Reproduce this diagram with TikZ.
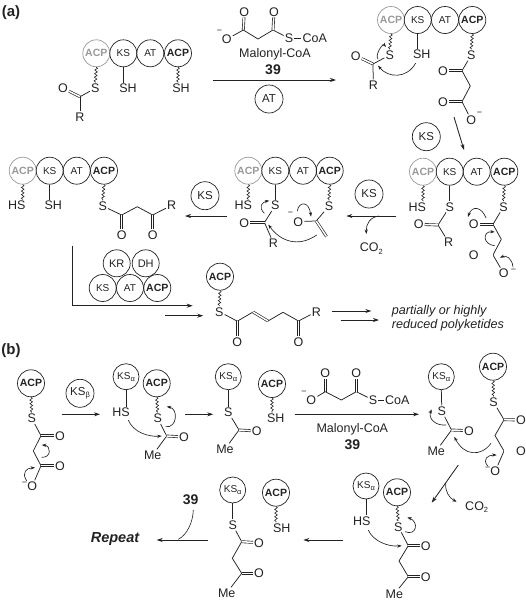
\documentclass[tikz,border=0pt]{standalone}
\usepackage{fontspec}
\setmainfont{Liberation Sans}
\usetikzlibrary{arrows.meta,calc,decorations.pathmorphing}
\definecolor{ink}{HTML}{222222}
\definecolor{fade}{HTML}{999999}
\newcommand\fs[1]{\fontsize{#1}{#1}\selectfont}
\newcommand\sbs[1]{\raisebox{-0.35ex}{\fs{7.5}#1}}
\newcommand\kal{KS\sbs{α}}
% curved electron-pushing arrow: name, start, via, end
\newcommand\curly[4]{\coordinate (#1s) at (#2); \coordinate (#1v) at (#3); \coordinate (#1e) at (#4);
  \draw[curlyarrow] (#1s) .. controls ($0.3333*(#1s)+1.3333*(#1v)-0.6667*(#1e)$) and ($0.3333*(#1e)+1.3333*(#1v)-0.6667*(#1s)$) .. (#1e);}
% the same with explicit control points: name, start, control, control, end
\newcommand\curlyc[5]{\coordinate (#1s) at (#2); \coordinate (#1e) at (#5);
  \draw[curlyarrow] (#1s) .. controls (#3) and (#4) .. (#1e);}
\newcommand\rxn[3]{\coordinate (#1s) at (#2); \coordinate (#1e) at (#3); \draw[rxnarrow] (#1s) -- (#1e);}
\tikzset{
  dom/.style={circle,draw=ink,line width=.7pt,minimum size=27pt,inner sep=0pt,text=ink,font=\fs{10}},
  acpb/.style={dom,font=\fs{10.5}\bfseries},
  acpg/.style={dom,draw=fade,text=fade,font=\fs{10.5}\bfseries},
  kas/.style={dom,minimum size=26pt,font=\fs{10}},
  reag/.style={dom,minimum size=28pt,font=\fs{11.5}},
  atom/.style={inner sep=1pt,text=ink,font=\fs{12.5},text height=9pt,text depth=0pt},
  lab/.style={inner sep=0pt,text=ink,font=\fs{12.5}},
  num/.style={inner sep=0pt,text=ink,font=\fs{14}\bfseries},
  minus/.style={inner sep=0pt,text=ink,font=\fs{9}},
  bond/.style={draw=ink,line width=.75pt},
  dbl/.style={draw=ink,line width=.65pt,double,double distance=1.5pt},
  wavy/.style={draw=ink,line width=.6pt,decorate,decoration={snake,amplitude=1.3pt,segment length=3.6pt}},
  rxnarrow/.style={draw=ink,line width=.85pt,-{Stealth[length=6pt,width=4pt]}},
  curlyarrow/.style={draw=ink,line width=.65pt,-{Stealth[length=4.5pt,width=3.2pt]}},
}
\begin{document}
\begin{tikzpicture}[x=1pt,y=-1pt]
\useasboundingbox (0,0) rectangle (526,600);
% ---------- labels
\node[inner sep=0,text=ink,font=\fs{15}\bfseries] (la) at (11,13) {(a)};
\node[inner sep=0,text=ink,font=\fs{15}\bfseries] (lb) at (11,351) {(b)};

% ---------- a1
\node[acpg] (a1g) at (96.3,53.3) {ACP};
\node[dom] (a1k) at (123.3,53.3) {KS};
\node[dom] (a1t) at (150.3,53.3) {AT};
\node[acpb] (a1p) at (178,53.3) {ACP};
\node[atom] (a1s) at (95.3,88.3) {S};
\node[atom] (a1sh) at (128,88.3) {SH};
\node[atom] (a1sh2) at (181,88.3) {SH};
\node[atom] (a1o) at (63,88.3) {O};
\coordinate (a1c) at (80,96.7);
\node[atom] (a1r) at (80,117) {R};
\draw[wavy] (a1g.south) -- (a1s.north);
\draw[bond] (a1k.south) -- (a1k.south |- a1sh.north);
\draw[wavy] (a1p.south) -- (a1p.south |- a1sh2.north);
\draw[dbl] (a1c) -- (a1o);
\draw[bond] (a1c) -- (a1s);
\draw[bond] (a1c) -- (a1r);

% ---------- malonyl top
\node[atom] (m1o1) at (244.3,11.7) {O};
\node[atom] (m1om) at (226.7,39.3) {O};
\node[minus] (m1mi) at (219.5,31.5) {−};
\coordinate (m1c1) at (243.3,30);
\coordinate (m1ch) at (258,39);
\coordinate (m1c2) at (273,30);
\node[atom] (m1o2) at (274,11.7) {O};
\node[atom] (m1s) at (289,38.3) {S};
\node[atom] (m1coa) at (314.7,38.3) {CoA};
\draw[dbl] (m1c1) -- (m1o1);
\draw[bond] (m1c1) -- (m1om);
\draw[bond] (m1c1) -- (m1ch) -- (m1c2) -- (m1s);
\draw[dbl] (m1c2) -- (m1o2);
\draw[bond] (m1s) -- (m1coa);
\node[lab] (m1n) at (275,54) {Malonyl-CoA};
\node[num] (m1b) at (273,70) {39};
\rxn{ra1}{213,80}{336,80}
\node[reag] (m1at) at (269,99) {AT};

% ---------- a2
\node[acpg] (a2g) at (391,20) {ACP};
\node[dom] (a2k) at (417.7,20) {KS};
\node[dom] (a2t) at (445,20) {AT};
\node[acpb] (a2p) at (472.3,20) {ACP};
\node[atom] (a2s) at (389.7,55) {S};
\node[atom] (a2sh) at (421.7,54.3) {SH};
\node[atom] (a2o) at (355.7,55.7) {O};
\coordinate (a2c) at (373,64);
\node[atom] (a2r) at (373.3,85) {R};
\node[atom] (a2s2) at (471.3,55) {S};
\coordinate (a2c1) at (462,70.7);
\node[atom] (a2o1) at (443,70.7) {O};
\coordinate (a2ch) at (470.3,86);
\coordinate (a2c2) at (462,101.7);
\node[atom] (a2o2) at (443,101.7) {O};
\node[atom] (a2om) at (471.3,120) {O};
\node[minus] (a2mi) at (479.5,114) {−};
\draw[wavy] (a2g.south) -- (a2s.north);
\draw[bond] (a2k.south) -- (a2k.south |- a2sh.north);
\draw[wavy] (a2p.south) -- (a2s2.north);
\draw[dbl] (a2c) -- (a2o);
\draw[bond] (a2c) -- (a2s);
\draw[bond] (a2c) -- (a2r);
\draw[bond] (a2s2) -- (a2c1) -- (a2ch) -- (a2c2) -- (a2om);
\draw[dbl] (a2c1) -- (a2o1);
\draw[dbl] (a2c2) -- (a2o2);
\curly{a2x}{378,59}{379.5,50}{386,47}
\curlyc{a2y}{415.7,63}{407,79}{388,78}{378,65.5}
\node[reag] (r1ks) at (426.3,136.7) {KS};
\rxn{ra2}{454,117}{464,150}

% ---------- a3
\node[acpg] (a3g) at (423,171.7) {ACP};
\node[dom] (a3k) at (449.7,171.7) {KS};
\node[dom] (a3t) at (476.7,171.7) {AT};
\node[acpb] (a3p) at (504.3,171.7) {ACP};
\node[atom] (a3hs) at (417.3,206.7) {HS};
\node[atom] (a3s) at (449.7,206.7) {S};
\coordinate (a3c) at (438,225);
\node[atom] (a3o) at (418.7,224.3) {O};
\node[atom] (a3r) at (448.7,242.3) {R};
\node[atom] (a3s2) at (503.5,206.7) {S};
\coordinate (a3c1) at (493,224.3);
\node[atom] (a3o1) at (473.7,224.3) {O};
\coordinate (a3ch) at (501.3,239.3);
\coordinate (a3c2) at (493,255);
\node[atom] (a3o2) at (473.7,255) {O};
\node[atom] (a3om) at (503.7,273.3) {O};
\node[minus] (a3mi) at (513.5,270.5) {−};
\draw[wavy] (a3g.south) -- (a3g.south |- a3hs.north);
\draw[bond] (a3k.south) -- (a3s.north);
\draw[wavy] (a3p.south) -- (a3s2.north);
\draw[bond] (a3s) -- (a3c) -- (a3r);
\draw[dbl] (a3c) -- (a3o);
\draw[bond] (a3s2) -- (a3c1) -- (a3ch) -- (a3c2) -- (a3om);
\draw[dbl] (a3c1) -- (a3o1);
\draw[dbl] (a3c2) -- (a3o2);
\curlyc{a3x}{486,218}{482,207}{472,205}{468,217}
\curly{a3y}{494.7,245.7}{485.5,238}{494.7,232}
\curlyc{a3z}{513,267}{512,258}{506,255}{500,257.7}

% ---------- step a3 -> a4
\rxn{ra3}{396.3,216}{346.3,216}
\node[reag] (r2ks) at (369,194) {KS};
\coordinate (co2a) at (379,216);
\coordinate (co2b) at (366.3,234);
\draw[curlyarrow] (co2a) .. controls (370,217) and (366,224) .. (co2b);
\node[atom] (co2) at (371.3,247.3) {CO\sbs{2}};

% ---------- a4
\node[acpg] (a4g) at (248.3,170.7) {ACP};
\node[dom] (a4k) at (275.3,170.7) {KS};
\node[dom] (a4t) at (303,170.7) {AT};
\node[acpb] (a4p) at (329.7,170.7) {ACP};
\node[atom] (a4hs) at (243.3,205.3) {HS};
\node[atom] (a4s) at (275.3,205.3) {S};
\node[atom] (a4o) at (244.3,222.5) {O};
\coordinate (a4c) at (264.5,222.5);
\node[atom] (a4r) at (273.5,243.3) {R};
\node[atom] (a4s2) at (329,206) {S};
\coordinate (a4c2) at (316.2,221);
\node[atom] (a4om) at (298.2,221.5) {O};
\node[minus] (a4mi) at (290.5,213.5) {−};
\coordinate (a4ch) at (326.5,236.5);
\draw[wavy] (a4g.south) -- (a4g.south |- a4hs.north);
\draw[bond] (a4k.south) -- (a4s.north);
\draw[wavy] (a4p.south) -- (a4s2.north);
\draw[bond] (a4s) -- (a4c) -- (a4r);
\draw[dbl] (a4c) -- (a4o);
\draw[bond] (a4s2) -- (a4c2) -- (a4om);
\draw[dbl] (a4c2) -- (a4ch);
\curlyc{a4x}{297.3,211}{299,201}{309,201}{311,216.7}
\curlyc{a4y}{316.7,235}{298,248}{280,241}{268.3,224.5}
\curlyc{a4z}{264.3,213.3}{258,207}{262,202}{269.3,200.7}

\rxn{ra4}{226.7,216}{185,216}
\node[reag] (r3ks) at (205,195.7) {KS};

% ---------- a5
\node[acpg] (a5g) at (22.7,170.7) {ACP};
\node[dom] (a5k) at (49.7,170.7) {KS};
\node[dom] (a5t) at (76.7,170.7) {AT};
\node[acpb] (a5p) at (104,170.7) {ACP};
\node[atom] (a5hs) at (16.7,205.3) {HS};
\node[atom] (a5sh) at (53.3,205.3) {SH};
\node[atom] (a5s) at (102.7,206) {S};
\coordinate (a5c1) at (121.7,215);
\node[atom] (a5o1) at (121.7,235) {O};
\coordinate (a5ch) at (137.3,206.7);
\coordinate (a5c2) at (152.7,215);
\node[atom] (a5o2) at (152.7,235) {O};
\node[atom] (a5r) at (171.7,205.3) {R};
\draw[wavy] (a5g.south) -- (a5g.south |- a5hs.north);
\draw[bond] (a5k.south) -- (a5k.south |- a5sh.north);
\draw[wavy] (a5p.south) -- (a5s.north);
\draw[bond] (a5s) -- (a5c1) -- (a5ch) -- (a5c2) -- (a5r);
\draw[dbl] (a5c1) -- (a5o1);
\draw[dbl] (a5c2) -- (a5o2);

% ---------- L arrow and module
\coordinate (lA) at (72.7,245.7);
\coordinate (lB) at (72.7,305.7);
\coordinate (lC) at (192.7,305.7);
\draw[rxnarrow] (lA) -- (lB) -- (lC);
\rxn{rl2}{165,315.7}{203.3,315.7}
\node[dom,font=\fs{11}] (mkr) at (116.7,263.3) {KR};
\node[dom,font=\fs{11}] (mdh) at (145.7,263.3) {DH};
\node[dom] (mks) at (102.7,288) {KS};
\node[dom] (mat) at (130,288) {AT};
\node[acpb] (mac) at (157.3,288) {ACP};

% ---------- a6
\node[acpb] (a6p) at (220,276.7) {ACP};
\node[atom] (a6s) at (219.3,311.7) {S};
\coordinate (a6c1) at (237.3,321.2);
\node[atom] (a6o1) at (237.3,341.7) {O};
\coordinate (a6d1) at (253,312);
\coordinate (a6d2) at (268,321);
\coordinate (a6ch) at (283,312.3);
\coordinate (a6c2) at (298.5,321);
\node[atom] (a6o2) at (298.5,341.7) {O};
\node[atom] (a6r) at (316.3,311.7) {R};
\draw[wavy] (a6p.south) -- (a6s.north);
\draw[bond] (a6s) -- (a6c1) -- (a6d1);
\draw[dbl] (a6d1) -- (a6d2);
\draw[bond] (a6d2) -- (a6ch) -- (a6c2) -- (a6r);
\draw[dbl] (a6c1) -- (a6o1);
\draw[dbl] (a6c2) -- (a6o2);
\rxn{rp1}{332.3,311}{371.3,311}
\rxn{rp2}{340.7,320}{379,320}
\node[lab,anchor=west,font=\fs{12.6}\itshape] (pk1) at (391.7,311.5) {partially or highly};
\node[lab,anchor=west,font=\fs{12.6}\itshape] (pk2) at (391.7,325.5) {reduced polyketides};

% ---------- b1
\node[acpb] (b1p) at (31,383.3) {ACP};
\node[atom] (b1s) at (31.7,418.3) {S};
\coordinate (b1c1) at (41,435.7);
\node[atom] (b1o1) at (60,435.7) {O};
\coordinate (b1ch) at (33.3,451);
\coordinate (b1c2) at (41,465.7);
\node[atom] (b1o2) at (60,465.7) {O};
\node[atom] (b1om) at (32.3,486) {O};
\node[minus] (b1mi) at (24.5,484) {−};
\draw[wavy] (b1p.south) -- (b1s.north);
\draw[bond] (b1s) -- (b1c1) -- (b1ch) -- (b1c2) -- (b1om);
\draw[dbl] (b1c1) -- (b1o1);
\draw[dbl] (b1c2) -- (b1o2);
\curly{b1x}{41.7,457.3}{49,451.7}{41.7,445}
\curlyc{b1y}{26.7,481}{21,472}{27,468}{35,467.7}
\rxn{rb1}{61.7,414.3}{100,414.3}
\node[reag] (rkb) at (80,393.3) {KS\sbs{β}};

% ---------- b2
\node[kas] (b2k) at (126,376.7) {\kal};
\node[acpb] (b2p) at (156.7,383.3) {ACP};
\node[atom] (b2hs) at (121,412.3) {HS};
\node[atom] (b2s) at (157.7,418.3) {S};
\coordinate (b2c) at (166.7,436);
\node[atom] (b2o) at (184,437) {O};
\node[atom] (b2me) at (152.7,455) {Me};
\draw[bond] (b2k.south) -- (b2k.south |- b2hs.north);
\draw[wavy] (b2p.south) -- (b2s.north);
\draw[bond] (b2s) -- (b2c) -- (b2me);
\draw[dbl] (b2c) -- (b2o);
\curlyc{b2x}{128.3,420}{133,432}{148,437}{161.7,436}
\curly{b2y}{165.7,426.7}{175,418}{166.7,406.7}
\rxn{rb2}{185,414.3}{213.3,414.3}

% ---------- b3
\node[kas] (b3k) at (228.3,376.7) {\kal};
\node[atom] (b3s) at (228.3,412.3) {S};
\coordinate (b3c) at (239,430);
\node[atom] (b3o) at (256.7,431) {O};
\node[atom] (b3me) at (225,449) {Me};
\node[acpb] (b3p) at (272,384) {ACP};
\node[atom] (b3sh) at (275.7,418.3) {SH};
\draw[bond] (b3k.south) -- (b3s.north);
\draw[bond] (b3s) -- (b3c) -- (b3me);
\draw[dbl] (b3c) -- (b3o);
\draw[wavy] (b3p.south) -- (b3p.south |- b3sh.north);

% ---------- malonyl b
\node[atom] (m2o1) at (325.3,373.3) {O};
\node[atom] (m2om) at (311.3,400) {O};
\node[minus] (m2mi) at (304,392.7) {−};
\coordinate (m2c1) at (325.3,391.7);
\coordinate (m2ch) at (341.3,400);
\coordinate (m2c2) at (356.3,391.7);
\node[atom] (m2o2) at (356.3,373.3) {O};
\node[atom] (m2s) at (373,400) {S};
\node[atom] (m2coa) at (397.3,400) {CoA};
\draw[dbl] (m2c1) -- (m2o1);
\draw[bond] (m2om) -- (m2c1) -- (m2ch) -- (m2c2) -- (m2s);
\draw[dbl] (m2c2) -- (m2o2);
\draw[bond] (m2s) -- (m2coa);
\rxn{rb3}{294.7,414.3}{419,414.3}
\node[lab] (m2n) at (352.3,429) {Malonyl-CoA};
\node[num] (m2b) at (352.3,444.3) {39};

% ---------- b4
\node[kas] (b4k) at (441.3,376.7) {\kal};
\node[atom] (b4s) at (441.7,411) {S};
\coordinate (b4c) at (451.5,430);
\node[atom] (b4o) at (468.9,430.7) {O};
\node[atom] (b4me) at (436.2,451) {Me};
\node[acpb] (b4p) at (493,366.7) {ACP};
\node[atom] (b4s2) at (493.5,402) {S};
\coordinate (b4c1) at (504,419.7);
\node[atom] (b4o1) at (521,420) {O};
\coordinate (b4ch) at (495,435.5);
\coordinate (b4c2) at (504,451);
\node[atom] (b4o2) at (521,451) {O};
\node[atom] (b4om) at (495.3,471) {O};
\node[minus] (b4mi) at (487.7,469.3) {−};
\draw[bond] (b4k.south) -- (b4s.north);
\draw[bond] (b4s) -- (b4c) -- (b4me);
\draw[dbl] (b4c) -- (b4o);
\draw[wavy] (b4p.south) -- (b4s2.north);
\draw[bond] (b4s2) -- (b4c1) -- (b4ch) -- (b4c2) -- (b4om);
\draw[dbl] (b4c1) -- (b4o1);
\draw[dbl] (b4c2) -- (b4o2);
\curlyc{b4x}{446,425}{435,426}{428,418}{431.7,409.3}
\curlyc{b4y}{491,443.3}{481,457}{464,456}{454.3,436.7}
\curlyc{b4z}{487.7,466}{482,459}{488,455}{496.7,455}

% ---------- step b4 -> b5
\rxn{rb4}{458.3,465}{431.7,502.7}
\coordinate (co2c) at (445.7,483.3);
\coordinate (co2d) at (456.7,501.7);
\draw[curlyarrow] (co2c) .. controls (445,491) and (449,498) .. (co2d);
\node[atom] (co2b) at (476.7,505.7) {CO\sbs{2}};

% ---------- b5
\node[kas] (b5k) at (366,486) {\kal};
\node[atom] (b5hs) at (361.7,520.7) {HS};
\node[acpb] (b5p) at (397,492.3) {ACP};
\node[atom] (b5s) at (398.3,526.7) {S};
\coordinate (b5c1) at (408.3,545.7);
\node[atom] (b5o1) at (425.7,545.7) {O};
\coordinate (b5ch) at (399,561);
\coordinate (b5c2) at (408.3,576.7);
\node[atom] (b5o2) at (425.7,576.7) {O};
\node[atom] (b5me) at (394.3,594) {Me};
\draw[bond] (b5k.south) -- (b5k.south |- b5hs.north);
\draw[wavy] (b5p.south) -- (b5s.north);
\draw[bond] (b5s) -- (b5c1) -- (b5ch) -- (b5c2) -- (b5me);
\draw[dbl] (b5c1) -- (b5o1);
\draw[dbl] (b5c2) -- (b5o2);
\curlyc{b5x}{368.3,530}{373,541}{388,547}{401.7,545.7}
\curly{b5y}{405,531.7}{415,528}{407.3,517.3}
\rxn{rb5}{343.3,540}{303.3,540}

% ---------- b6
\node[kas] (b6k) at (232.7,490) {\kal};
\node[atom] (b6s) at (232.7,525) {S};
\coordinate (b6c1) at (241.7,541.7);
\node[atom] (b6o1) at (259,542.7) {O};
\coordinate (b6ch) at (232.3,558.3);
\coordinate (b6c2) at (241.7,573.3);
\node[atom] (b6o2) at (259,573.3) {O};
\node[atom] (b6me) at (226.7,593) {Me};
\node[acpb] (b6p) at (276,492.7) {ACP};
\node[atom] (b6sh) at (281.7,527.7) {SH};
\draw[bond] (b6k.south) -- (b6s.north);
\draw[bond] (b6s) -- (b6c1) -- (b6ch) -- (b6c2) -- (b6me);
\draw[dbl] (b6c1) -- (b6o1);
\draw[dbl] (b6c2) -- (b6o2);
\draw[wavy] (b6p.south) -- (b6p.south |- b6sh.north);

% ---------- repeat
\rxn{rb6}{207.7,540}{156.7,540}
\node[num] (r39) at (190.7,499.3) {39};
\coordinate (rca) at (193.3,510);
\coordinate (rcb) at (178.3,539.3);
\draw[bond,line width=.6pt] (rca) .. controls (193,522) and (187,535) .. (rcb);
\node[inner sep=0,text=ink,font=\fs{14.5}\bfseries\itshape] (rep) at (115,539.3) {Repeat};
\end{tikzpicture}
\end{document}
